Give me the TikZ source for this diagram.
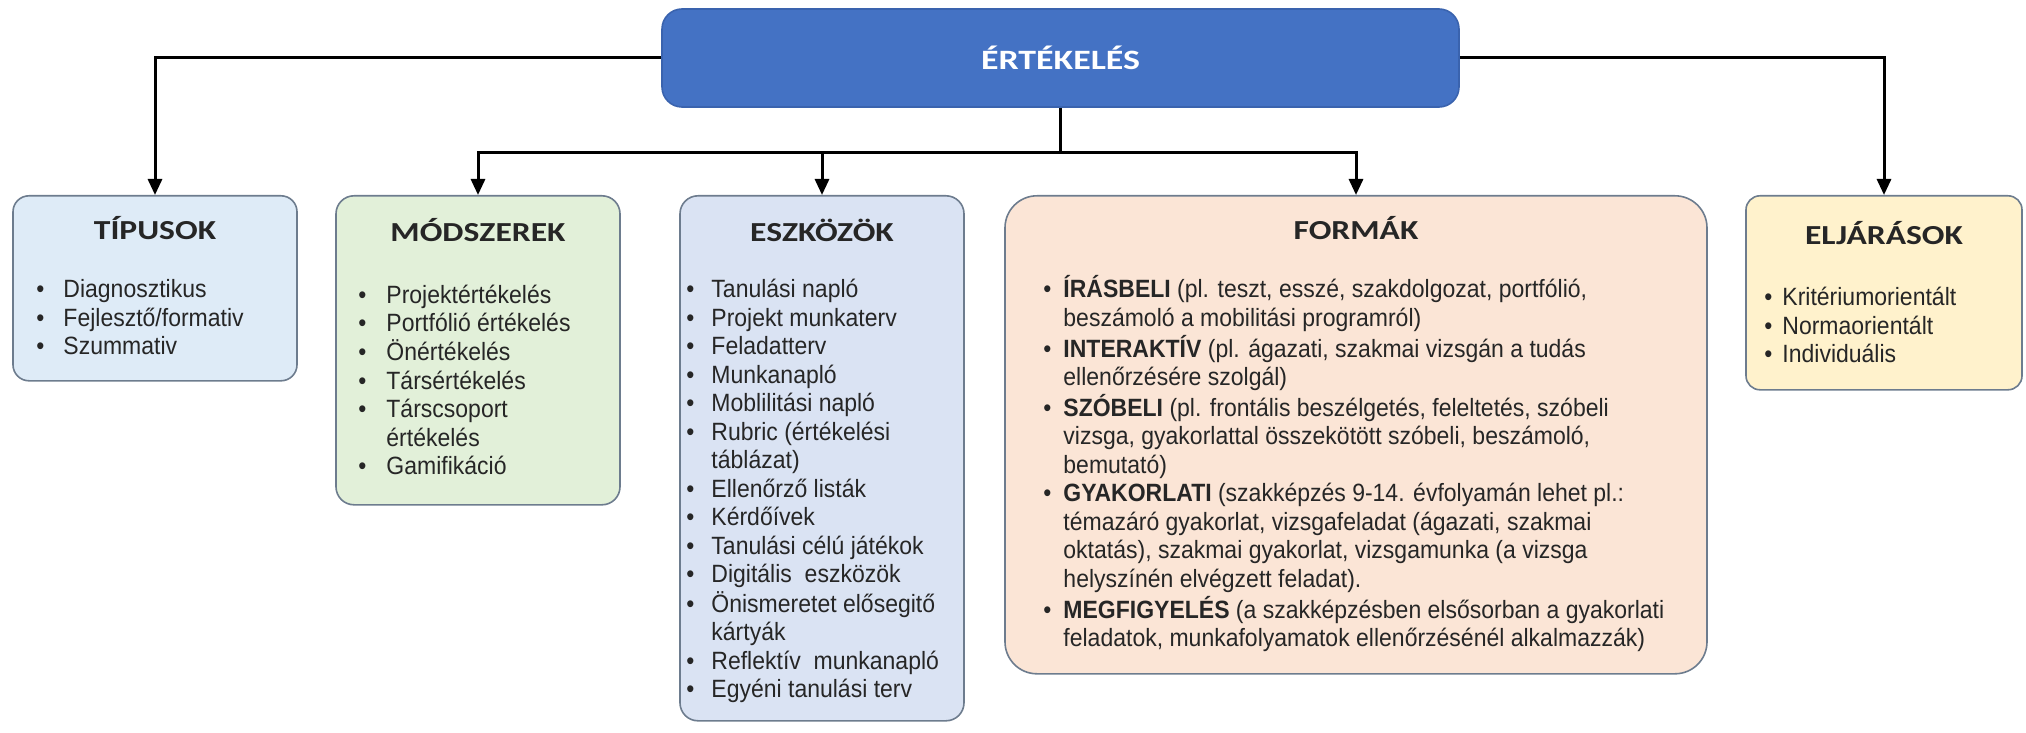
\documentclass[tikz,border=0pt]{standalone}
\usepackage{fontspec}
\setmainfont{Liberation Sans}
\newfontfamily\listfont[FakeStretch=0.92]{Liberation Sans}
\newfontfamily\headfont[FakeStretch=1.22]{Carlito}
\newfontfamily\topfont[FakeStretch=1.28]{Carlito}
\usetikzlibrary{arrows.meta}
\definecolor{topblue}{HTML}{4472C4}
\definecolor{topline}{HTML}{3A63AE}
\definecolor{boxline}{HTML}{6D7C8E}
\definecolor{txt}{HTML}{262626}
\definecolor{tipfill}{HTML}{DEEBF7}
\definecolor{modfill}{HTML}{E2F0D9}
\definecolor{eszfill}{HTML}{DAE3F3}
\definecolor{forfill}{HTML}{FBE5D6}
\definecolor{eljfill}{HTML}{FFF2CC}
\newcommand{\bul}{\textbullet}

\begin{document}
\begin{tikzpicture}[x=0.5pt, y=-0.5pt,
		box/.style={draw=boxline, line width=0.8pt, inner sep=0pt, anchor=north},
		head/.style={anchor=base, inner sep=0pt, text=txt, font=\headfont\bfseries\fontsize{13.75}{16}\selectfont},
		items/.style={anchor=base west, inner sep=0pt, text=txt, font=\listfont\fontsize{12.5}{14.25}\selectfont},
		conn/.style={line width=1.5pt, -{Triangle[length=8pt,width=7pt]}}]
		\useasboundingbox (0,0) rectangle (2026,733);
		% main node
		\node[box, anchor=center, fill=topblue, draw=topline, minimum width=398.5pt, minimum height=49pt, rounded corners=10pt, text=white, font=\topfont\bfseries\fontsize{14}{16}\selectfont] (eval) at (1060.5,58) {ÉRTÉKELÉS};
		% boxes
		\node[box, fill=tipfill, minimum width=142pt, minimum height=92.5pt, rounded corners=8pt] (tipusok) at (155,195) {};
		\node[box, fill=modfill, minimum width=142pt, minimum height=154.5pt, rounded corners=9pt] (modszerek) at (478,195) {};
		\node[box, fill=eszfill, minimum width=142pt, minimum height=262.5pt, rounded corners=9pt] (eszkozok) at (822,195) {};
		\node[box, fill=forfill, minimum width=351pt, minimum height=239pt, rounded corners=16pt] (formak) at (1356,195) {};
		\node[box, fill=eljfill, minimum width=138pt, minimum height=97pt, rounded corners=7pt] (eljarasok) at (1884,195) {};
		% titles
		\node[head] (tipusokT) at (155,240) {TÍPUSOK};
		\node[head] (modszerekT) at (478,242) {MÓDSZEREK};
		\node[head] (eszkozokT) at (822,242) {ESZKÖZÖK};
		\node[head] (formakT) at (1356,240) {FORMÁK};
		\node[head] (eljarasokT) at (1884,244) {ELJÁRÁSOK};
		% lists
		\node[items] (tipusokL) at (36,298) {\begin{tabular}[t]{@{}l@{\hspace{9.5pt}}l@{}}
				\bul & Diagnosztikus\\
				\bul & Fejlesztő/formativ\\
				\bul & Szummativ
			\end{tabular}};
		\node[items] (modszerekL) at (358,303) {\begin{tabular}[t]{@{}l@{\hspace{10pt}}l@{}}
				\bul & Projektértékelés\\
				\bul & Portfólió értékelés\\
				\bul & Önértékelés\\
				\bul & Társértékelés\\
				\bul & Társcsoport\\
				& értékelés\\
				\bul & Gamifikáció
			\end{tabular}};
		\node[items] (eszkozokL) at (686,298) {\begin{tabular}[t]{@{}l@{\hspace{8.5pt}}l@{}}
				\bul & Tanulási napló\\
				\bul & Projekt munkaterv\\
				\bul & Feladatterv\\
				\bul & Munkanapló\\
				\bul & Moblilitási napló\\
				\bul & Rubric (értékelési\\
				& táblázat)\\
				\bul & Ellenőrző listák\\
				\bul & Kérdőívek\\
				\bul & Tanulási célú játékok\\
				\bul & Digitális\ \ eszközök\\
				\bul & Önismeretet elősegitő\\
				& kártyák\\
				\bul & Reflektív\ \ munkanapló\\
				\bul & Egyéni tanulási terv
			\end{tabular}};
		\node[items] (formakL) at (1043,298) {\begin{tabular}[t]{@{}l@{\hspace{6pt}}l@{}}
				\bul & \textbf{ÍRÁSBELI} (pl. teszt, esszé, szakdolgozat, portfólió,\\
				& beszámoló a mobilitási programról)\\
				\bul & \textbf{INTERAKTÍV} (pl. ágazati, szakmai vizsgán a tudás\\
				& ellenőrzésére szolgál)\\
				\bul & \textbf{SZÓBELI} (pl. frontális beszélgetés, feleltetés, szóbeli\\
				& vizsga, gyakorlattal összekötött szóbeli, beszámoló,\\
				& bemutató)\\
				\bul & \textbf{GYAKORLATI} (szakképzés 9-14. évfolyamán lehet pl.:\\
				& témazáró gyakorlat, vizsgafeladat (ágazati, szakmai\\
				& oktatás), szakmai gyakorlat, vizsgamunka (a vizsga\\
				& helyszínén elvégzett feladat).\\
				\bul & \textbf{MEGFIGYELÉS} (a szakképzésben elsősorban a gyakorlati\\
				& feladatok, munkafolyamatok ellenőrzésénél alkalmazzák)
			\end{tabular}};
		\node[items] (eljarasokL) at (1764,306) {\begin{tabular}[t]{@{}l@{\hspace{5pt}}l@{}}
				\bul & Kritériumorientált\\
				\bul & Normaorientált\\
				\bul & Individuális
			\end{tabular}};
		% connectors
		\coordinate (hub) at ([yshift=-22.5pt]eval.south);
		\draw[line width=1.5pt] (eval.south) -- (hub);
		\draw[conn] (eval.west) -| (tipusok.north);
		\draw[conn] (eval.east) -| (eljarasok.north);
		\draw[conn] (hub) -| (modszerek.north);
		\draw[conn] (hub) -| (eszkozok.north);
		\draw[conn] (hub) -| (formak.north);
	\end{tikzpicture}
\end{document}
